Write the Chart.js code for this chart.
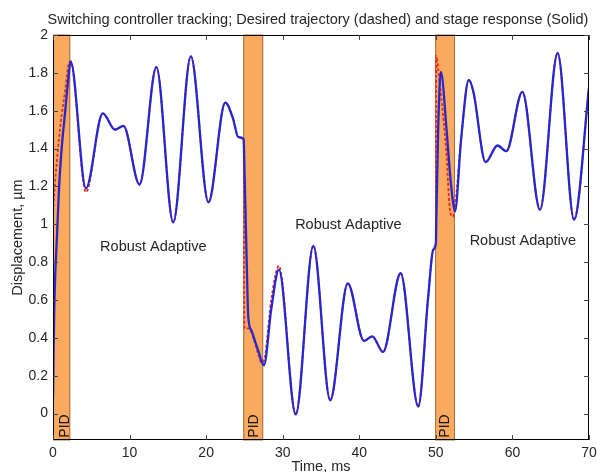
<!DOCTYPE html>
<html>
<head>
<meta charset="utf-8">
<script src="https://cdn.jsdelivr.net/npm/chart.js@4"></script>
<style>
  html, body { margin: 0; padding: 0; background: #fff; }
  #wrap { width: 597px; height: 472px; position: relative; }
</style>
</head>
<body>
<div id="wrap"><canvas id="chart"></canvas></div>
<script>
// 时间轴（ms）与两条曲线的读数
const timeMs = [0, 0.05, 0.15, 0.3, 0.5, 0.8, 1.15, 1.6, 2.0, 2.3, 4.3, 6.5, 8.1, 9.2, 11.3, 13.5, 15.7, 18.0, 20.3, 22.5, 23.5, 24.2, 24.9, 25.0, 25.3, 25.5, 25.9, 26.4, 26.9, 27.2, 27.55, 28.5, 29.5, 31.7, 34.0, 36.2, 38.5, 40.6, 41.7, 43.1, 45.4, 47.7, 49.0, 49.65, 50.0, 50.05, 50.3, 50.65, 51.4, 51.8, 52.2, 52.5, 53.3, 54.3, 54.9, 56.5, 58.05, 59.2, 61.3, 63.6, 65.9, 68.05, 70];

// 实际响应（实线）
const response = [0.08, 0.22, 0.52, 0.74, 0.92, 1.2, 1.41, 1.6, 1.77, 1.86, 1.19, 1.586, 1.50, 1.52, 1.21, 1.83, 1.01, 1.887, 1.116, 1.643, 1.56, 1.46, 1.45, 1.30, 0.80, 0.51, 0.44, 0.38, 0.32, 0.28, 0.255, 0.55, 0.76, -0.005, 0.886, 0.07, 0.688, 0.384, 0.408, 0.325, 0.741, 0.037, 0.617, 0.865, 0.90, 1.0, 1.50, 1.805, 1.50, 1.29, 1.13, 1.068, 1.45, 1.763, 1.70, 1.328, 1.416, 1.386, 1.70, 1.077, 1.905, 1.024, 1.72];

// 期望轨迹（虚线）
const desired = [1.04, 1.08, 1.15, 1.24, 1.33, 1.46, 1.58, 1.71, 1.84, 1.86, 1.17, 1.586, 1.50, 1.52, 1.21, 1.83, 1.01, 1.887, 1.116, 1.643, 1.56, 1.46, 1.45, 0.45, 0.45, 0.45, 0.43, 0.37, 0.30, 0.27, 0.28, 0.60, 0.78, -0.005, 0.886, 0.07, 0.688, 0.384, 0.408, 0.325, 0.741, 0.037, 0.617, 0.865, 0.90, 1.89, 1.82, 1.69, 1.36, 1.09, 1.04, 1.09, 1.45, 1.763, 1.70, 1.328, 1.416, 1.386, 1.70, 1.077, 1.905, 1.024, 1.72];

// PID 区间
const pidStart = [0, 24.85, 49.9];
const pidEnd = [2.25, 27.45, 52.5];
const pidLabelX = [1.6, 26.25, 51.2];

// 文字标注
const modeLabels = ['Robust Adaptive', 'Robust Adaptive', 'Robust Adaptive'];
const modeLabelX = [13.1, 38.57, 61.36];
const modeLabelY = [0.88, 0.995, 0.91];

// 坐标刻度
const xTicks = [0, 10, 20, 30, 40, 50, 60, 70];
const yTicks = [0, 0.2, 0.4, 0.6, 0.8, 1, 1.2, 1.4, 1.6, 1.8, 2];

const FONT = "'Liberation Sans', Arial, sans-serif";
const TEXT = '#262626';

Chart.defaults.font.family = FONT;
Chart.defaults.color = TEXT;

const overlay = {
  id: 'overlay',
  beforeDatasetsDraw(chart) {
    const { ctx, chartArea: a, scales: { x } } = chart;
    ctx.save();
    pidStart.forEach((s, i) => {
      const x0 = x.getPixelForValue(s);
      const x1 = x.getPixelForValue(pidEnd[i]);
      ctx.fillStyle = 'rgb(250,170,95)';
      ctx.fillRect(x0, a.top, x1 - x0, a.bottom - a.top);
      ctx.strokeStyle = 'rgb(165,110,65)';
      ctx.lineWidth = 1;
      ctx.strokeRect(x0 + 0.5, a.top, x1 - x0 - 1, a.bottom - a.top);
      // PID 竖排文字
      ctx.save();
      ctx.translate(x.getPixelForValue(pidLabelX[i]), a.bottom - 14);
      ctx.rotate(-Math.PI / 2);
      ctx.font = '14px ' + FONT;
      ctx.fillStyle = '#111';
      ctx.textAlign = 'center';
      ctx.textBaseline = 'middle';
      ctx.fillText('PID', 0, 0);
      ctx.restore();
    });
    ctx.restore();
  },
  afterDatasetsDraw(chart) {
    const { ctx, chartArea: a, scales: { x, y } } = chart;
    ctx.save();
    ctx.strokeStyle = '#000';
    ctx.lineWidth = 1;
    ctx.strokeRect(a.left + 0.5, a.top + 0.5, a.right - a.left - 1, a.bottom - a.top - 1);
    // 向内刻度
    ctx.strokeStyle = '#444';
    ctx.beginPath();
    xTicks.forEach(v => {
      const px = Math.round(x.getPixelForValue(v)) + 0.5;
      ctx.moveTo(px, a.bottom); ctx.lineTo(px, a.bottom - 5);
      ctx.moveTo(px, a.top); ctx.lineTo(px, a.top + 5);
    });
    yTicks.forEach(v => {
      const py = Math.round(y.getPixelForValue(v)) + 0.5;
      ctx.moveTo(a.left, py); ctx.lineTo(a.left + 5, py);
      ctx.moveTo(a.right, py); ctx.lineTo(a.right - 5, py);
    });
    ctx.stroke();
    ctx.restore();
  },
  afterDraw(chart) {
    const { ctx, chartArea: a, scales: { x, y } } = chart;
    ctx.save();
    ctx.fillStyle = TEXT;
    ctx.font = '14.5px ' + FONT;
    ctx.textAlign = 'center';
    ctx.textBaseline = 'alphabetic';
    ctx.fillText('Switching controller tracking; Desired trajectory (dashed) and stage response (Solid)', 318, 24);

    ctx.textBaseline = 'middle';
    modeLabels.forEach((t, i) => {
      ctx.fillText(t, x.getPixelForValue(modeLabelX[i]), y.getPixelForValue(modeLabelY[i]));
    });

    ctx.fillText('Time, ms', (a.left + a.right) / 2, 467);

    ctx.save();
    ctx.translate(18, (a.top + a.bottom) / 2);
    ctx.rotate(-Math.PI / 2);
    ctx.fillText('Displacement, \u00b5m', 0, 0);
    ctx.restore();
    ctx.restore();
  }
};

new Chart(document.getElementById('chart'), {
  type: 'line',
  data: {
    datasets: [
      {
        label: 'stage response',
        data: timeMs.map((t, i) => ({ x: t, y: response[i] })),
        borderColor: '#2727cf',
        borderWidth: 2.3,
        pointRadius: 0,
        cubicInterpolationMode: 'monotone',
        fill: false
      },
      {
        label: 'desired trajectory',
        data: timeMs.map((t, i) => ({ x: t, y: desired[i] })),
        borderColor: '#e82a20',
        borderWidth: 1.8,
        borderDash: [3, 2],
        pointRadius: 0,
        cubicInterpolationMode: 'monotone',
        fill: false
      }
    ]
  },
  options: {
    responsive: true,
    maintainAspectRatio: false,
    animation: false,
    layout: { padding: { top: 35, right: 8, left: 0, bottom: 0 } },
    plugins: {
      legend: { display: false },
      tooltip: { enabled: false },
      title: { display: false }
    },
    scales: {
      x: {
        type: 'linear',
        min: 0,
        max: 70,
        grid: { display: false, drawTicks: false },
        border: { display: false },
        ticks: { stepSize: 10, padding: 5, font: { size: 14 }, color: TEXT, maxRotation: 0 },
        afterBuildTicks: s => { s.ticks = xTicks.map(v => ({ value: v })); },
        afterFit: s => { s.height = 32; s.paddingLeft = 0; s.paddingRight = 0; }
      },
      y: {
        type: 'linear',
        min: -0.14,
        max: 2,
        grid: { display: false, drawTicks: false },
        border: { display: false },
        ticks: {
          padding: 5,
          font: { size: 14 },
          color: TEXT,
          callback: v => String(Number(v.toFixed(1)))
        },
        afterBuildTicks: s => { s.ticks = yTicks.map(v => ({ value: v })); },
        afterFit: s => { s.width = 53; s.paddingTop = 0; s.paddingBottom = 0; }
      }
    }
  },
  plugins: [overlay]
});
</script>
</body>
</html>
